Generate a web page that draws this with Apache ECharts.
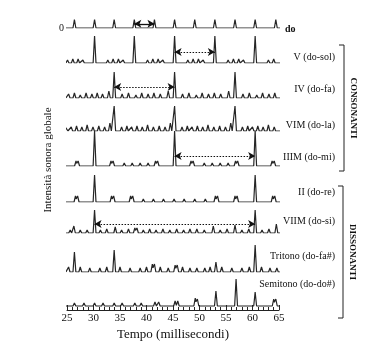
<!DOCTYPE html>
<html><head><meta charset="utf-8">
<script src="https://cdn.jsdelivr.net/npm/echarts@6/dist/echarts.min.js"></script>
<style>html,body{margin:0;padding:0;background:#fff}#c{width:368px;height:345px}</style>
</head><body><div id="c"></div>
<script>
// ---- data (time in ms, peak height in arbitrary intensity units) ----
const timeTicks = [25, 30, 35, 40, 45, 50, 55, 60, 65];
const traceLabels = ['do', 'V (do-sol)', 'IV (do-fa)', 'VIM (do-la)', 'IIIM (do-mi)',
  'II (do-re)', 'VIIM (do-si)', 'Tritono (do-fa#)', 'Semitono (do-do#)'];
const groupLabels = ['CONSONANTI', 'DISSONANTI'];
const yTitle = 'Intensità sonora globale';
const xTitle = 'Tempo (millisecondi)';

const doPeaks = [[26.4,12],[30.2,12],[33.9,12],[37.7,12],[41.5,12],[45.3,12],[49.1,12],[52.9,12],[56.7,12],[60.5,12],[64.4,12]];
const solPeaks = [[25.1,3],[26.1,4],[27.1,4],[28.0,3],[30.2,27],[32.7,3],[33.7,4],[34.7,4],[35.6,3],[37.7,27],[40.2,3],[41.2,4],[42.2,4],[43.1,3],[45.3,27],[47.8,3],[48.8,4],[49.8,4],[50.7,3],[52.9,27],[55.4,3],[56.4,4],[57.4,4],[58.3,3],[60.5,27],[63.0,3],[64.0,4]];
const faPeaks = [[25.3,4],[26.4,5],[27.5,3],[28.6,5],[29.7,4],[30.7,5],[31.7,4],[32.9,7],[33.9,26],[35.4,4],[36.6,5],[38.0,3],[39.1,5],[40.3,4],[41.4,5],[42.6,4],[44.1,7],[45.3,26],[46.8,4],[48.0,5],[49.4,3],[50.5,5],[51.7,4],[52.8,5],[54.0,4],[55.5,7],[56.7,26],[58.2,4],[59.4,5],[60.8,3],[61.9,5],[63.1,4],[64.2,5]];
const laPeaks = [[24.9,5],[25.8,4],[26.8,5],[27.8,4],[28.8,6],[29.9,4],[31.0,5],[32.1,4],[33.1,8],[33.9,25],[35.3,4],[36.3,5],[37.2,4],[38.2,5],[39.2,4],[40.2,6],[41.3,4],[42.4,5],[43.5,4],[44.5,8],[45.3,25],[46.7,4],[47.7,5],[48.6,4],[49.6,5],[50.6,4],[51.6,6],[52.7,4],[53.8,5],[54.9,4],[55.9,8],[56.7,25],[58.1,4],[59.1,5],[60.0,4],[61.0,5],[62.0,4],[63.0,6],[64.1,4]];
const miPeaks = [[26.7,5],[27.1,5],[30.2,35],[33.3,5],[33.7,5],[35.8,3],[37.3,3],[38.8,3],[40.3,3],[41.7,5],[42.1,5],[45.3,35],[48.4,5],[48.8,5],[50.9,3],[52.4,3],[53.9,3],[55.4,3],[56.8,5],[57.2,5],[60.5,35],[63.7,5],[64.1,5]];
const rePeaks = [[26.6,6],[27.0,6],[30.2,27],[33.4,6],[33.8,6],[37.0,6],[37.4,6],[39.4,3],[41.3,3],[43.2,3],[45.2,3],[47.1,3],[49.1,3],[51.1,3],[53.0,6],[53.4,6],[56.7,6],[57.1,6],[60.5,27],[63.8,6],[64.2,6]];
const siPeaks = [[25.6,3],[26.3,7],[27.5,3],[28.8,3],[30.2,23],[31.3,3],[32.5,4],[34.1,6],[35.3,3],[36.6,4],[37.8,5],[38.2,5],[39.4,3],[40.6,4],[41.8,3],[43.1,4],[44.4,3],[45.7,4],[47.0,3],[48.2,4],[49.5,4],[50.9,3],[52.6,7],[53.9,3],[55.2,4],[56.7,8],[58.0,3],[59.3,4],[60.5,23],[61.8,3],[63.1,4],[64.5,9]];
const tritonoPeaks = [[25.3,5],[26.4,20],[27.5,5],[29.3,4],[31.2,4],[32.5,5],[33.9,22],[35.0,5],[36.9,4],[38.8,4],[40.0,5],[41.1,8],[41.5,8],[42.6,5],[44.1,4],[45.4,7],[45.8,7],[46.8,5],[48.2,4],[49.5,4],[51.0,4],[52.0,5],[53.1,10],[54.2,5],[56.1,4],[58.0,4],[59.4,5],[60.5,27],[61.7,5],[63.3,4],[64.6,4]];
const semitonoPeaks = [[26.4,3],[28.2,3],[30.2,3],[31.8,3],[33.9,3],[35.4,3],[37.8,3],[39.0,3],[41.6,4],[42.3,4],[45.4,5],[45.9,5],[49.2,8],[49.6,7],[53.1,15],[56.9,27],[60.5,14],[64.0,7],[64.4,7]];

// arrows: [trace index, start ms, end ms, height]
const doArrow = [0, 37.7, 41.5, 6];
const solArrow = [1, 45.3, 52.9, 11];
const faArrow = [2, 33.9, 45.3, 11];
const miArrow = [4, 45.3, 60.5, 10];
const siArrow = [6, 30.2, 60.5, 9];

// ---- build ----
const peakSets = [doPeaks, solPeaks, faPeaks, laPeaks, miPeaks, rePeaks, siPeaks, tritonoPeaks, semitonoPeaks];
const arrows = [doArrow, solArrow, faArrow, miArrow, siArrow];
const baselines = [28, 63, 98, 131, 166, 202, 233, 272, 306];
const labelY = [29, 57, 89, 125, 157, 192, 221, 256, 284];
const W = 0.27;

function toLine(peaks) {
  const xs = [24.8, 65.2];
  peaks.forEach(p => { xs.push(p[0] - W, p[0], p[0] + W); });
  xs.sort((a, b) => a - b);
  return xs.map(x => {
    let v = 0;
    peaks.forEach(p => { const d = Math.abs(x - p[0]); if (d < W) v = Math.max(v, p[1] * (1 - d / W)); });
    return [x, v];
  });
}

const FONT = 'Liberation Serif';
const grids = [], xAxes = [], yAxes = [], series = [];
const H = 40;
peakSets.forEach((pk, i) => {
  const isLast = i === peakSets.length - 1;
  const axisY = isLast ? 310 : baselines[i];
  grids.push({ left: 67, width: 212, top: axisY - H, height: H, containLabel: false });
  const yMin = isLast ? -(axisY - baselines[i]) : 0;
  xAxes.push(isLast ? {
    type: 'value', gridIndex: i, min: 25, max: 65, interval: 5,
    axisLine: { show: true, onZero: false, lineStyle: { color: '#222', width: 1 } },
    axisTick: { show: true, inside: true, length: 5, lineStyle: { color: '#222' } },
    minorTick: { show: true, splitNumber: 5, length: 3, lineStyle: { color: '#222' } },
    splitLine: { show: false },
    axisLabel: { fontFamily: FONT, fontSize: 11, color: '#111', margin: 3,
      formatter: v => timeTicks.indexOf(v) >= 0 ? String(v) : '' },
    name: xTitle, nameLocation: 'middle', nameGap: 18,
    nameTextStyle: { fontFamily: FONT, fontSize: 13, color: '#111' }
  } : { type: 'value', gridIndex: i, min: 25, max: 65, show: false });
  yAxes.push(i === 0 ? {
    type: 'value', gridIndex: i, min: 0, max: H, interval: H,
    axisLine: { show: false }, axisTick: { show: false }, splitLine: { show: false },
    axisLabel: { show: true, margin: 3, fontFamily: FONT, fontSize: 10, color: '#111',
      formatter: v => v === 0 ? '0' : '' }
  } : { type: 'value', gridIndex: i, min: yMin, max: yMin + H, show: false });
  const s = {
    type: 'line', xAxisIndex: i, yAxisIndex: i, data: toLine(pk),
    showSymbol: false, symbol: 'none', silent: true, animation: false,
    lineStyle: { color: '#262626', width: 1.2 }
  };
  const ar = arrows.filter(a => a[0] === i);
  if (ar.length) {
    s.markLine = {
      silent: true, animation: false, symbol: ['arrow', 'arrow'], symbolSize: [6, 7],
      label: { show: false },
      lineStyle: { color: '#111', width: i === 0 ? 1.3 : 1, type: i === 0 ? 'solid' : [1.5, 1.5] },
      data: ar.map(a => [{ coord: [a[1], a[3]] }, { coord: [a[2], a[3]] }])
    };
  }
  series.push(s);
});

const graphics = [];
traceLabels.forEach((t, i) => {
  graphics.push({
    type: 'text', x: i === 0 ? 285 : 335, y: labelY[i],
    style: { text: t, fontFamily: FONT, fontSize: 10, fontWeight: i === 0 ? 'bold' : 'normal',
      fill: '#111', textAlign: i === 0 ? 'left' : 'right', textVerticalAlign: 'middle' }
  });
});
// brackets
[[45, 171, 344], [186, 318, 343]].forEach((b, k) => {
  graphics.push({ type: 'polyline', shape: { points: [[b[2] - 5, b[0]], [b[2], b[0]], [b[2], b[1]], [b[2] - 5, b[1]]] },
    style: { stroke: '#222', lineWidth: 1, fill: null } });
  graphics.push({ type: 'text', x: b[2] + 9, y: (b[0] + b[1]) / 2, rotation: -Math.PI / 2,
    style: { text: groupLabels[k], fontFamily: FONT, fontSize: 9, fontWeight: 'bold', fill: '#111',
      textAlign: 'center', textVerticalAlign: 'middle' } });
});
graphics.push({ type: 'text', x: 48, y: 160, rotation: Math.PI / 2,
  style: { text: yTitle, fontFamily: FONT, fontSize: 11, fill: '#111', textAlign: 'center', textVerticalAlign: 'middle' } });

const chart = echarts.init(document.getElementById('c'), null, { renderer: 'canvas' });
chart.setOption({
  animation: false, backgroundColor: '#fff',
  grid: grids, xAxis: xAxes, yAxis: yAxes, series: series, graphic: graphics
});
</script></body></html>
